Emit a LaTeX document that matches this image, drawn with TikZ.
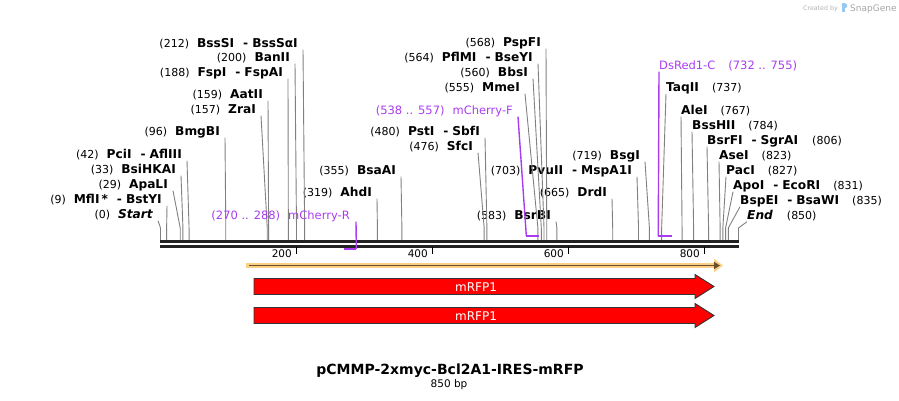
\documentclass[tikz,border=0pt]{standalone}
\usepackage{fontspec}
\setmainfont{DejaVu Sans}
\usetikzlibrary{arrows.meta}
\definecolor{primerc}{RGB}{170,60,240}
\definecolor{cutc}{RGB}{128,128,128}
\definecolor{rfpc}{RGB}{255,0,0}
\definecolor{haloc}{RGB}{250,208,135}
\definecolor{featc}{RGB}{105,78,40}
\definecolor{axisc}{RGB}{34,34,34}
\definecolor{logoc}{RGB}{150,200,240}
\newcommand{\sitepos}[1]{{\fontsize{11}{13}\selectfont(#1)}}
\newcommand{\enzname}[1]{{\fontsize{12.2}{14}\selectfont\bfseries #1}}
\newcommand{\enzdash}{\hspace{9pt}\enzname{-}\hspace{4pt}}
\tikzset{
  lsite/.style={anchor=base east,inner xsep=0pt,inner ysep=0pt,text height=9pt,text depth=2.5pt},
  rsite/.style={anchor=base west,inner xsep=0pt,inner ysep=0pt,text height=9pt,text depth=2.5pt},
  cut/.style={cutc,line width=0.9pt},
  primer/.style={primerc,line width=1.4pt},
  primerbar/.style={primerc,line width=2.6pt},
  plabel/.style={text=primerc,font=\fontsize{11.5}{13}\selectfont},
  rfp/.style={fill=rfpc,draw=black!80,line width=0.9pt},
}
\begin{document}
\begin{tikzpicture}[x=1pt,y=-1pt]
    \useasboundingbox (0,0) rectangle (899,400);
    \foreach \p in {0,9,29,33,42,96,157,159,188,200,212,319,355,476,480,555,560,564,568,583,665,703,719,737,767,784,806,823,827,831,835,850}
        \coordinate (s\p) at ({160.5+0.68*\p},240.5);
    \coordinate (bend) at (0,228);

    \node[lsite] (bsssi) at (298,47) {\sitepos{212}\hspace{8pt}\enzname{BssSI}\enzdash\enzname{BssSαI}};
    \node[lsite] (banii) at (290,61) {\sitepos{200}\hspace{8pt}\enzname{BanII}};
    \node[lsite] (fspi) at (283,76) {\sitepos{188}\hspace{8pt}\enzname{FspI}\enzdash\enzname{FspAI}};
    \node[lsite] (aatii) at (263,98) {\sitepos{159}\hspace{8pt}\enzname{AatII}};
    \node[lsite] (zrai) at (256,113) {\sitepos{157}\hspace{8pt}\enzname{ZraI}};
    \node[lsite] (bmgbi) at (220,135) {\sitepos{96}\hspace{8pt}\enzname{BmgBI}};
    \node[lsite] (pcii) at (182,158) {\sitepos{42}\hspace{8pt}\enzname{PciI}\enzdash\enzname{AflIII}};
    \node[lsite] (bsihkai) at (176,173) {\sitepos{33}\hspace{8pt}\enzname{BsiHKAI}};
    \node[lsite] (apali) at (168,188) {\sitepos{29}\hspace{8pt}\enzname{ApaLI}};
    \node[lsite] (mfli) at (162,203) {\sitepos{9}\hspace{8pt}\enzname{MflI\,*}\enzdash\enzname{BstYI}};
    \node[lsite] (start) at (153,218) {\sitepos{0}\hspace{8pt}\enzname{\itshape Start}};
    \node[lsite] (ahdi) at (372,196) {\sitepos{319}\hspace{8pt}\enzname{AhdI}};
    \node[lsite] (bsaai) at (396,174) {\sitepos{355}\hspace{8pt}\enzname{BsaAI}};
    \node[lsite] (sfci) at (473,150) {\sitepos{476}\hspace{8pt}\enzname{SfcI}};
    \node[lsite] (psti) at (480,135) {\sitepos{480}\hspace{8pt}\enzname{PstI}\enzdash\enzname{SbfI}};
    \node[lsite] (mmei) at (520,91) {\sitepos{555}\hspace{8pt}\enzname{MmeI}};
    \node[lsite] (bbsi) at (528,76) {\sitepos{560}\hspace{8pt}\enzname{BbsI}};
    \node[lsite] (pflmi) at (533,61) {\sitepos{564}\hspace{8pt}\enzname{PflMI}\enzdash\enzname{BseYI}};
    \node[lsite] (pspfi) at (541,46) {\sitepos{568}\hspace{8pt}\enzname{PspFI}};
    \node[lsite] (bsrbi) at (551,219) {\sitepos{583}\hspace{8pt}\enzname{BsrBI}};
    \node[lsite] (drdi) at (607,196) {\sitepos{665}\hspace{8pt}\enzname{DrdI}};
    \node[lsite] (pvuii) at (632,174) {\sitepos{703}\hspace{8pt}\enzname{PvuII}\enzdash\enzname{MspA1I}};
    \node[lsite] (bsgi) at (640,159) {\sitepos{719}\hspace{8pt}\enzname{BsgI}};

    \node[rsite] (taqii) at (666,91) {\enzname{TaqII}\hspace{13pt}\sitepos{737}};
    \node[rsite] (alei) at (681,114) {\enzname{AleI}\hspace{13pt}\sitepos{767}};
    \node[rsite] (bsshii) at (692,129) {\enzname{BssHII}\hspace{13pt}\sitepos{784}};
    \node[rsite] (bsrfi) at (707,144) {\enzname{BsrFI}\enzdash\enzname{SgrAI}\hspace{14pt}\sitepos{806}};
    \node[rsite] (asei) at (719,159) {\enzname{AseI}\hspace{13pt}\sitepos{823}};
    \node[rsite] (paci) at (726,174) {\enzname{PacI}\hspace{13pt}\sitepos{827}};
    \node[rsite] (apoi) at (733,189) {\enzname{ApoI}\enzdash\enzname{EcoRI}\hspace{13pt}\sitepos{831}};
    \node[rsite] (bspei) at (740,204) {\enzname{BspEI}\enzdash\enzname{BsaWI}\hspace{13pt}\sitepos{835}};
    \node[rsite] (stop) at (747,219) {\enzname{\itshape End}\hspace{14pt}\sitepos{850}};

    \foreach \n/\p in {bsssi/212,banii/200,fspi/188,aatii/159,zrai/157,bmgbi/96,pcii/42,bsihkai/33,apali/29,mfli/9,start/0,ahdi/319,bsaai/355,sfci/476,psti/480,mmei/555,bbsi/560,pflmi/564,pspfi/568,bsrbi/583,drdi/665,pvuii/703,bsgi/719}
        \draw[cut] ([xshift=5pt]\n.south east) -- (s\p |- bend) -- (s\p);
    \foreach \n/\p in {taqii/737,alei/767,bsshii/784,bsrfi/806,asei/823,paci/827,apoi/831,bspei/835,stop/850}
        \draw[cut] (\n.south west) -- (s\p |- bend) -- (s\p);

    \draw[axisc,line width=3pt] (160,241.5) -- (739,241.5);
    \draw[axisc,line width=3pt] (160,246) -- (739,246);
    \foreach \t in {200,400,600,800} {
        \draw[black,line width=1.3pt] ({160.5+0.68*\t},247) -- ++(0,7);
        \node[anchor=base east,inner sep=0pt,font=\fontsize{10.5}{12}\selectfont] (t\t) at ({156+0.68*\t},257) {\t};
    }

    \node[lsite,plabel] (mcherryr) at (350,219) {(270 .. 288)\hspace{8pt}mCherry-R};
    \node[lsite,plabel] (mcherryf) at (513,114) {(538 .. 557)\hspace{8pt}mCherry-F};
    \node[rsite,plabel] (dsred) at (659,69) {DsRed1-C\hspace{13pt}(732 .. 755)};
    \coordinate (pr1) at ({160.5+0.68*270},249);
    \coordinate (pr2) at ({160.5+0.68*288},249);
    \coordinate (pf1) at ({160.5+0.68*538},236);
    \coordinate (pf2) at ({160.5+0.68*557},236);
    \coordinate (pd1) at ({160.5+0.68*732},236);
    \coordinate (pd2) at ({160.5+0.68*752},236);
    \draw[primer] ([xshift=6pt]mcherryr.south east) -- (pr2);
    \draw[primerbar] (pr2) -- (pr1);
    \draw[primer] ([xshift=5pt]mcherryf.south east) -- (pf1);
    \draw[primerbar] (pf1) -- (pf2);
    \draw[primer] (dsred.south west) -- (pd1);
    \draw[primerbar] (pd1) -- (pd2);

    \draw[haloc,line width=5.5pt,-{Triangle[length=9pt,width=13pt]}] (246,265.5) -- (723,265.5);
    \draw[featc,line width=1.6pt,-{Triangle[length=6pt,width=7pt]}] (249,265.5) -- (720,265.5);

    \draw[rfp] (254,278.5) -- (695,278.5) -- (695,274.5) -- (714,286.5) -- (695,298.5) -- (695,294.5) -- (254,294.5) -- cycle;
    \node[text=white,font=\fontsize{12}{14}\selectfont,anchor=base] (rfp1) at (476,291) {mRFP1};
    \draw[rfp] (254,307.5) -- (695,307.5) -- (695,303.5) -- (714,315.5) -- (695,327.5) -- (695,323.5) -- (254,323.5) -- cycle;
    \node[text=white,font=\fontsize{12}{14}\selectfont,anchor=base] (rfp2) at (476,320) {mRFP1};

    \node[anchor=base,font=\fontsize{14}{16}\selectfont\bfseries] (title) at (450,374) {pCMMP-2xmyc-Bcl2A1-IRES-mRFP};
    \node[anchor=base,font=\fontsize{10.5}{12}\selectfont] (size) at (449,387) {850 bp};

    \node[anchor=base east,inner sep=0pt,text=black!30,font=\fontsize{6.3}{7}\selectfont] (credit) at (838,10) {Created by};
    \fill[logoc] (842,3) rectangle (844.5,12);
    \fill[logoc] (844.5,3) -- (847,4.5) -- (847,7) -- (844.5,8.5) -- cycle;
    \node[anchor=base west,inner sep=0pt,text=black!35,font=\fontsize{9}{10}\selectfont] (brand) at (850,11) {SnapGene};
\end{tikzpicture}
\end{document}
